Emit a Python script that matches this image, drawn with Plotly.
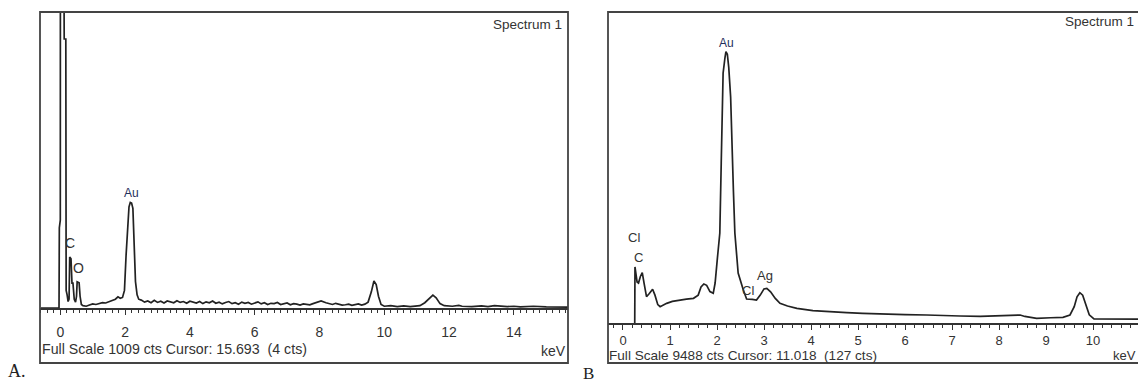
import plotly.graph_objects as go

W, H = 1138, 383

# ---------------- Panel A data (keV, counts) ----------------
a_kev = [-0.60, -0.04, -0.03, 0.00, 0.01, 0.11, 0.12, 0.17, 0.18, 0.21, 0.24, 0.27,
         0.29, 0.33, 0.36, 0.39, 0.43, 0.47, 0.50, 0.52, 0.58, 0.61, 0.65, 0.70,
         0.80, 0.90, 1.00, 1.10, 1.20, 1.30, 1.40, 1.50, 1.60, 1.70, 1.78, 1.85,
         1.92, 1.98, 2.03, 2.08, 2.12, 2.16, 2.20, 2.24, 2.28, 2.32, 2.37, 2.42,
         2.50, 2.60, 2.70, 2.80, 2.90, 3.00, 3.10, 3.20, 3.30, 3.40, 3.50, 3.60,
         3.70, 3.80, 3.90, 4.00, 4.10, 4.20, 4.30, 4.40, 4.50, 4.60, 4.70, 4.80,
         4.90, 5.00, 5.10, 5.20, 5.30, 5.40, 5.50, 5.60, 5.70, 5.80, 5.90, 6.00,
         6.10, 6.20, 6.30, 6.40, 6.50, 6.60, 6.70, 6.80, 6.90, 7.00, 7.10, 7.20,
         7.30, 7.40, 7.50, 7.60, 7.70, 7.80, 7.90, 8.05, 8.20, 8.30, 8.40, 8.50,
         8.60, 8.70, 8.80, 8.90, 9.00, 9.10, 9.20, 9.30, 9.40,
         9.50, 9.60, 9.68, 9.75, 9.82, 9.90, 10.00, 10.20, 10.40, 10.60, 10.80,
         10.90, 11.10, 11.25, 11.40, 11.50, 11.60, 11.72, 11.85, 12.10, 12.30,
         12.40, 12.70, 13.00, 13.20, 13.40, 13.80, 14.00, 14.20, 14.60, 15.00,
         15.40, 15.70]
a_cts = [0, 0, 273, 300, 4000, 4000, 917, 917, 60, 45, 22, 30,
         174, 168, 85, 85, 30, 20, 40, 89, 86, 40, 12, 8,
         6, 10, 14, 12, 16, 18, 17, 21, 24, 30, 38, 33,
         36, 60, 180, 300, 345, 360, 358, 340, 220, 90, 45, 30,
         27, 20, 24, 18, 26, 19, 23, 17, 24, 20, 18, 25,
         19, 22, 16, 23, 20, 17, 22, 15, 21, 18, 24, 16,
         20, 14, 19, 22, 15, 18, 13, 20, 16, 19, 13, 17,
         21, 14, 18, 12, 16, 15, 19, 12, 14, 17, 11, 15,
         13, 10, 14, 12, 11, 15, 19, 24, 18, 14, 12, 16,
         14, 10, 11, 13, 9, 12, 14, 10, 13,
         20, 55, 92, 80, 40, 12, 6, 8, 5, 7, 5,
         6, 8, 18, 35, 44, 35, 15, 8, 6, 9,
         6, 5, 7, 5, 8, 5, 6, 4, 6, 4,
         3, 3]

# ---------------- Panel B data (keV, counts) ----------------
b_kev = [0.25, 0.255, 0.30, 0.33, 0.37, 0.41, 0.45, 0.50, 0.56, 0.63, 0.68, 0.74,
         0.79, 0.85, 0.93, 1.05, 1.21, 1.35, 1.50, 1.60, 1.66, 1.72, 1.78, 1.85,
         1.92, 1.96, 2.01, 2.06, 2.09, 2.11, 2.13, 2.17, 2.19, 2.22, 2.25, 2.29,
         2.31, 2.35, 2.38, 2.45, 2.56, 2.63, 2.75, 2.84, 2.92, 3.00, 3.06, 3.14,
         3.24, 3.34, 3.50, 3.70, 4.04, 4.40, 4.76, 5.10, 5.47, 6.00, 6.46, 6.80,
         7.17, 7.60, 8.00, 8.30, 8.45, 8.55, 8.80, 9.10, 9.36, 9.51, 9.60, 9.66,
         9.72, 9.78, 9.85, 9.92, 10.02, 10.30, 10.60, 11.10]
b_cts = [0, 1710, 1250, 1220, 1420, 1534, 1200, 802, 900, 1028, 850, 560,
         497, 540, 600, 660, 702, 730, 753, 850, 1100, 1190, 1150, 960,
         906, 1220, 2000, 2745, 4880, 6500, 7625, 8100, 8275, 8200, 7800, 6900,
         5640, 4000, 2745, 1525, 1006, 732, 720, 700, 850, 1040, 1058, 950,
         750, 600, 520, 448, 375, 340, 314, 295, 275, 255, 244, 225,
         213, 205, 215, 230, 244, 200, 143, 160, 174, 244, 500, 800,
         924, 850, 550, 250, 122, 120, 118, 115]

# element labels: (text, keV, counts)
a_labels = [("Au", 2.20, 392), ("C", 0.30, 223), ("O", 0.56, 136)]
b_labels = [("Au", 2.21, 8549), ("Cl", 0.24, 2614), ("C", 0.34, 1992),
            ("Cl", 2.67, 1006), ("Ag", 3.02, 1464)]

a_full = 1009
b_full = 9488
a_footer = "Full Scale 1009 cts Cursor: 15.693  (4 cts)"
b_footer = "Full Scale 9488 cts Cursor: 11.018  (127 cts)"


def px(x):
    return x / W


def py(y):
    return 1 - y / H


fig = go.Figure()
line = dict(color="#222", width=1.7)
fig.add_trace(go.Scatter(x=a_kev, y=a_cts, mode="lines", line=line,
                         xaxis="x", yaxis="y", showlegend=False, hoverinfo="skip"))
fig.add_trace(go.Scatter(x=b_kev, y=b_cts, mode="lines", line=line,
                         xaxis="x2", yaxis="y2", showlegend=False, hoverinfo="skip"))

font = "Liberation Sans, Arial, sans-serif"
axcommon = dict(showline=True, linecolor="#333", linewidth=1.5, ticks="outside",
                tickcolor="#333", tickwidth=1, showgrid=False, zeroline=False,
                mirror=False)

fig.update_layout(
    width=W, height=H, margin=dict(l=0, r=0, t=0, b=0),
    paper_bgcolor="white", plot_bgcolor="white",
    xaxis=dict(domain=[px(40), px(568)], range=[-0.627, 15.67], anchor="y",
               tick0=0, dtick=2, ticklen=5, ticklabelstandoff=5,
               minor=dict(dtick=0.2, ticklen=3, tickcolor="#333", ticks="outside"),
               tickfont=dict(family=font, color="#333", size=14), **axcommon),
    yaxis=dict(domain=[py(308), py(12)], range=[0, a_full], visible=False, anchor="x"),
    xaxis2=dict(domain=[px(608), 1.0], range=[-0.319, 10.957], anchor="y2",
                tick0=0, dtick=1, ticklen=5, ticklabelstandoff=0,
                minor=dict(dtick=0.2, ticklen=3, tickcolor="#333", ticks="outside"),
                tickfont=dict(family=font, color="#333", size=13), **axcommon),
    yaxis2=dict(domain=[py(323), py(12)], range=[0, b_full], visible=False, anchor="x2"),
)

shapes = [
    dict(type="rect", xref="paper", yref="paper", x0=px(40), x1=px(568),
         y0=py(363), y1=py(12), line=dict(color="#444", width=1.8)),
    dict(type="rect", xref="paper", yref="paper", x0=px(608), x1=px(1145),
         y0=py(363), y1=py(12), line=dict(color="#444", width=1.8)),
]
fig.update_layout(shapes=shapes)

ann = []
for t, x, y in a_labels:
    ann.append(dict(text=t, x=x, y=y, xref="x", yref="y", showarrow=False,
                    font=dict(family=font, size=12 if t == "Au" else 14,
                              color="#1f2f5c" if t == "Au" else "#333")))
for t, x, y in b_labels:
    ann.append(dict(text=t, x=x, y=y, xref="x2", yref="y2", showarrow=False,
                    font=dict(family=font, size=12 if t == "Au" else 13,
                              color="#1f2f5c" if t == "Au" else "#333")))


def note(text, x, y, xanchor, size, family=font, color="#333"):
    ann.append(dict(text=text, x=px(x), y=py(y), xref="paper", yref="paper",
                    xanchor=xanchor, yanchor="middle", showarrow=False,
                    font=dict(family=family, size=size, color=color)))


note("Spectrum 1", 564, 25, "right", 13.5)
note("Spectrum 1", 1136, 21, "right", 13.5)
note(a_footer, 40, 349, "left", 14.2)
note(b_footer, 607, 355, "left", 13.6)
note("keV", 568, 351, "right", 14)
note("keV", 1138, 355, "right", 13)
note("A.", 6, 371, "left", 18, "Liberation Serif, Times New Roman, serif", "#222")
note("B", 581, 373, "left", 17, "Liberation Serif, Times New Roman, serif", "#222")
fig.update_layout(annotations=ann)

fig.write_html("out.html")
